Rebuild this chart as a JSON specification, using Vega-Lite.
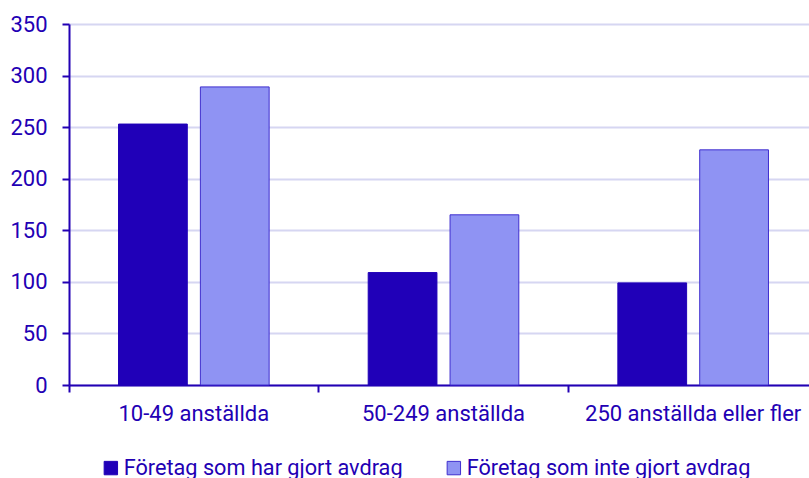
{
  "$schema": "https://vega.github.io/schema/vega-lite/v6.json",
  "width": 740,
  "height": 361,
  "autosize": "none",
  "padding": {"left": 69, "top": 24, "right": 0, "bottom": 93},
  "background": "white",
  "config": {
    "font": "Roboto",
    "view": {"stroke": null},
    "axis": {"labelFont": "Roboto", "labelFontSize": 22, "labelColor": "#2200b4"}
  },
  "data": {"values": [
    {"grupp": "10-49 anställda", "serie": "Företag som har gjort avdrag", "antal": 253},
    {"grupp": "10-49 anställda", "serie": "Företag som inte gjort avdrag", "antal": 289},
    {"grupp": "50-249 anställda", "serie": "Företag som har gjort avdrag", "antal": 109},
    {"grupp": "50-249 anställda", "serie": "Företag som inte gjort avdrag", "antal": 165},
    {"grupp": "250 anställda eller fler", "serie": "Företag som har gjort avdrag", "antal": 99},
    {"grupp": "250 anställda eller fler", "serie": "Företag som inte gjort avdrag", "antal": 228}
  ]},
  "mark": {"type": "bar", "strokeWidth": 1},
  "encoding": {
    "x": {
      "field": "grupp", "type": "nominal", "sort": null, "title": null,
      "scale": {"paddingInner": 0, "paddingOuter": 0, "range": [0, 749]},
      "axis": {"labelAngle": 0, "bandPosition": 0, "domainColor": "#2200b4", "domainWidth": 2, "tickColor": "#2200b4", "tickWidth": 2, "tickSize": 7, "labelPadding": 11, "labelLimit": 400, "grid": false}
    },
    "xOffset": {
      "field": "serie", "type": "nominal", "sort": null,
      "scale": {"paddingInner": 0.16, "paddingOuter": 0.605}
    },
    "y": {
      "field": "antal", "type": "quantitative", "title": null,
      "scale": {"domain": [0, 350]},
      "axis": {"values": [0, 50, 100, 150, 200, 250, 300, 350], "domainColor": "#2200b4", "domainWidth": 2, "tickColor": "#2200b4", "tickWidth": 2, "tickSize": 7, "labelPadding": 15, "gridColor": "#d6d6f2", "gridWidth": 2}
    },
    "fill": {
      "field": "serie", "type": "nominal", "sort": null, "title": null,
      "scale": {"range": ["#2000b8", "#8f93f3"]},
      "legend": {
        "orient": "none", "legendX": 31, "legendY": 433, "direction": "horizontal",
        "symbolType": "square", "symbolSize": 180, "symbolStrokeWidth": 1,
        "labelFont": "Roboto", "labelFontSize": 21.7, "labelColor": "#2200b4", "labelOffset": 2,
        "columnPadding": 40, "labelLimit": 400
      }
    },
    "stroke": {
      "field": "serie", "type": "nominal", "sort": null, "title": null,
      "scale": {"range": ["#2000b8", "#3f2ecf"]}
    }
  }
}
